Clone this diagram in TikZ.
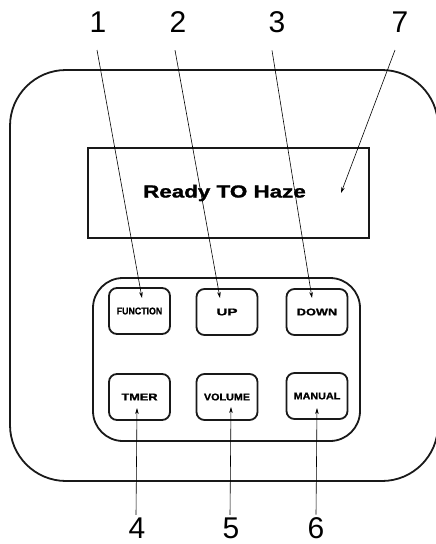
\documentclass[tikz,border=0pt]{standalone}
\usepackage{fontspec}
\setmainfont{Liberation Sans}
\newfontfamily\heavyfont{Liberation Sans Bold}[FakeBold=1.2]
\usetikzlibrary{arrows.meta}
\newcommand\btxt[2]{\scalebox{#1}[1]{#2}}
\begin{document}
\begin{tikzpicture}[x=1pt,y=-1pt,
  frame/.style={draw=black!90,line width=1.8pt},
  btn/.style={frame,rounded corners=8pt,minimum width=61pt,minimum height=46pt,inner sep=0pt,
    font=\fontsize{9.8}{11}\heavyfont},
  num/.style={inner sep=0pt,font=\fontsize{30}{34}\selectfont},
  lead/.style={line width=0.6pt,-{Stealth[length=6pt,width=3.5pt]}}]
\useasboundingbox (0,0) rectangle (436,544);
% outer body
\draw[frame,rounded corners=56pt] (10,70) rectangle (438,481);
% display
\node[frame,minimum width=281pt,minimum height=90pt,inner sep=0pt,
  font=\fontsize{17.5}{20}\heavyfont] (disp) at (228.5,193) {\hspace*{-8pt}\btxt{1.28}{Ready TO Haze}};
% button panel
\draw[frame,rounded corners=30pt] (93,278) rectangle (360,441);
% buttons
\node[btn] (bfun) at (139.5,311) {\btxt{0.9}{FUNCTION}};
\node[btn] (bup)  at (227,312) {\btxt{1.55}{UP}};
\node[btn] (bdown) at (317,312) {\btxt{1.3}{DOWN}};
\node[btn] (btmer) at (139.5,397) {\btxt{1.3}{TMER}};
\node[btn] (bvol) at (227,397) {\btxt{1.1}{VOLUME}};
\node[btn] (bman) at (317,396) {\btxt{1.1}{MANUAL}};
% tips
\coordinate (t1) at (142,298);
\coordinate (t2) at (220,298);
\coordinate (t3) at (312,298);
\coordinate (t7) at (341,193);
\coordinate (t4) at (137,408);
\coordinate (t5) at (231,407);
\coordinate (t6) at (317,408);
% labels
\node[num] (n1) at (98,22.5) {1};
\node[num] (n2) at (178,22.5) {2};
\node[num] (n3) at (277,22.5) {3};
\node[num] (n7) at (400,22.5) {7};
\node[num] (n4) at (137,528.5) {4};
\node[num] (n5) at (231,528.5) {5};
\node[num] (n6) at (316,528.5) {6};
% leaders
\draw[lead] ([xshift=-1pt,yshift=-17pt]n1.south) -- (t1);
\draw[lead] ([xshift=-3pt,yshift=-17pt]n2.south) -- (t2);
\draw[lead] ([xshift=-5pt,yshift=-17pt]n3.south) -- (t3);
\draw[lead] ([xshift=-5pt,yshift=-17pt]n7.south) -- (t7);
\draw[lead] ([xshift=-1pt,yshift=3pt]n4.north) -- (t4);
\draw[lead] ([xshift=-1pt,yshift=3pt]n5.north) -- (t5);
\draw[lead] ([xshift=0pt,yshift=3pt]n6.north) -- (t6);
\end{tikzpicture}
\end{document}
